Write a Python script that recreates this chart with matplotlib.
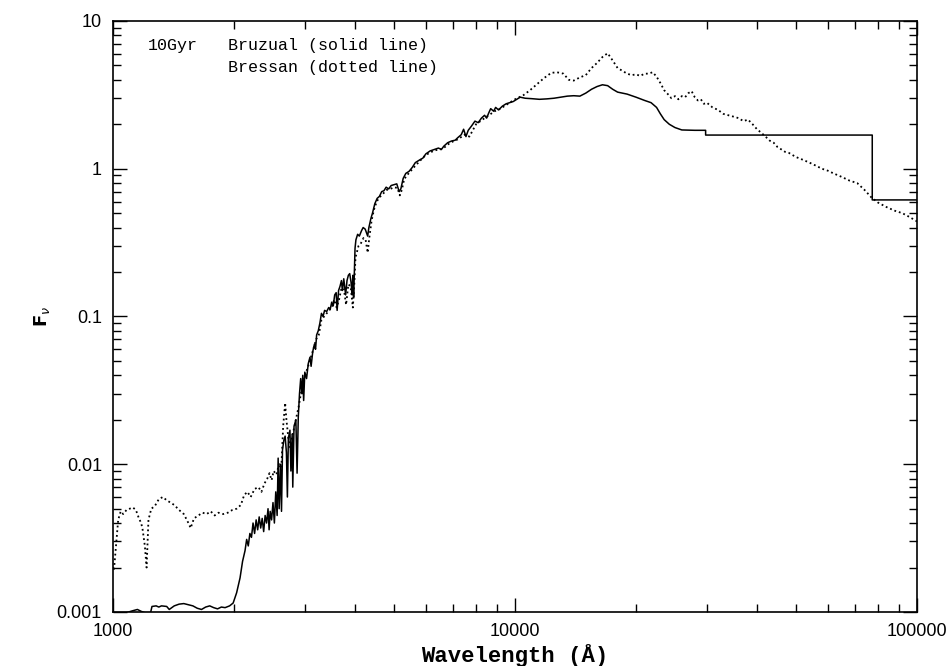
import numpy as np
import matplotlib
matplotlib.use('Agg')
import matplotlib.pyplot as plt

# Bruzual 10 Gyr SED (solid line)
wave_bru = [1000, 1080, 1120, 1150, 1175, 1200, 1240, 1250, 1280, 1300, 1320, 1360, 1380, 1420,
            1460, 1500, 1540, 1580, 1620, 1660, 1700, 1740, 1780, 1820, 1860, 1900, 1950, 1990,
            2030, 2070, 2100, 2130, 2150, 2170, 2190, 2210, 2230, 2250, 2270, 2290, 2310, 2330,
            2350, 2370, 2390, 2410, 2430, 2445, 2460, 2480, 2500, 2520, 2540, 2560, 2575, 2590,
            2610, 2625, 2640, 2660, 2680, 2700, 2715, 2730, 2755, 2770, 2790, 2800, 2820, 2850,
            2870, 2890, 2910, 2930, 2950, 2965, 2980, 3000, 3030, 3060, 3090, 3110, 3140, 3170,
            3190, 3210, 3240, 3270, 3300, 3330, 3360, 3400, 3440, 3470, 3500, 3530, 3560, 3590,
            3610, 3640, 3670, 3700, 3720, 3750, 3790, 3820, 3850, 3880, 3910, 3933, 3950, 3968,
            3985, 4000, 4020, 4060, 4100, 4150, 4190, 4240, 4270, 4300, 4330, 4380, 4420, 4480,
            4540, 4600, 4660, 4720, 4780, 4850, 4920, 5000, 5080, 5150, 5200, 5270, 5350, 5450,
            5550, 5650, 5800, 5900, 6000, 6150, 6300, 6450, 6560, 6650, 6800, 6950, 7100, 7200,
            7350, 7450, 7550, 7650, 7800, 7950, 8100, 8250, 8400, 8500, 8600, 8700, 8850, 8950,
            9100, 9300, 9500, 9700, 9900, 10100, 10300, 10600, 11000, 11500, 12000, 12500, 13000,
            13500, 14000, 14500, 15000, 15500, 16000, 16500, 17000, 17500, 18000, 19000, 20000,
            21000, 21800, 22500, 23000, 23500, 24200, 25000, 26000, 28000, 29800, 29800, 77400,
            77400, 100000]
flux_bru = [0.00099, 0.00099, 0.00102, 0.00104, 0.00101, 0.00099, 0.00099, 0.00109, 0.00110,
            0.00108, 0.00110, 0.00109, 0.00104, 0.00110, 0.00113, 0.00114, 0.00112, 0.00110,
            0.00106, 0.00104, 0.00108, 0.00110, 0.00107, 0.00105, 0.00108, 0.00107, 0.00110,
            0.00115, 0.00135, 0.0017, 0.0022, 0.0026, 0.0031, 0.0028, 0.0034, 0.0032, 0.0040,
            0.0034, 0.0042, 0.0036, 0.0044, 0.0037, 0.0043, 0.0035, 0.0045, 0.0040, 0.0050,
            0.0036, 0.0048, 0.0042, 0.0055, 0.0040, 0.0065, 0.0045, 0.0110, 0.0050, 0.0100,
            0.0048, 0.0125, 0.0145, 0.0155, 0.0120, 0.0060, 0.0150, 0.0170, 0.0090, 0.0160,
            0.0070, 0.0180, 0.0200, 0.0087, 0.0210, 0.0300, 0.0380, 0.0300, 0.0400, 0.0270,
            0.0420, 0.0380, 0.0480, 0.0530, 0.0460, 0.0580, 0.0650, 0.0600, 0.0750, 0.0800,
            0.0900, 0.1050, 0.1000, 0.1100, 0.1080, 0.1150, 0.1120, 0.1250, 0.1180, 0.1400,
            0.1450, 0.1100, 0.1500, 0.1600, 0.1750, 0.1500, 0.1800, 0.1400, 0.1750, 0.1900,
            0.1950, 0.1700, 0.1400, 0.1900, 0.1350, 0.2000, 0.2900, 0.3300, 0.3600, 0.3500,
            0.3800, 0.4000, 0.3900, 0.3700, 0.3500, 0.4000, 0.4600, 0.5000, 0.5800, 0.6300,
            0.6500, 0.7000, 0.7100, 0.7500, 0.7300, 0.7700, 0.7800, 0.7900, 0.7000, 0.7300,
            0.8600, 0.9300, 0.9600, 1.02, 1.10, 1.15, 1.18, 1.26, 1.32, 1.35, 1.38, 1.35, 1.42,
            1.50, 1.54, 1.56, 1.62, 1.70, 1.85, 1.65, 1.82, 1.95, 2.10, 2.05, 2.20, 2.30, 2.20,
            2.38, 2.55, 2.45, 2.60, 2.50, 2.65, 2.75, 2.80, 2.85, 2.95, 3.05, 3.00, 2.98, 2.95,
            2.97, 3.00, 3.05, 3.10, 3.12, 3.10, 3.25, 3.45, 3.60, 3.70, 3.65, 3.45, 3.30, 3.20,
            3.05, 2.90, 2.80, 2.60, 2.35, 2.15, 2.00, 1.90, 1.83, 1.82, 1.82, 1.69, 1.69, 0.615,
            0.615]

# Bressan 10 Gyr SED (dotted line)
wave_bre = [1000, 1005, 1015, 1030, 1045, 1060, 1080, 1100, 1120, 1140, 1160, 1175, 1185, 1200,
            1212, 1225, 1245, 1270, 1300, 1330, 1360, 1390, 1420, 1460, 1500, 1540, 1560, 1590,
            1630, 1670, 1710, 1750, 1790, 1830, 1880, 1930, 1980, 2030, 2080, 2120, 2160, 2200,
            2250, 2300, 2340, 2380, 2420, 2450, 2480, 2510, 2550, 2590, 2620, 2650, 2680, 2700,
            2730, 2760, 2800, 2850, 2900, 2950, 3000, 3050, 3100, 3150, 3200, 3250, 3300, 3350,
            3400, 3450, 3500, 3550, 3600, 3650, 3700, 3750, 3800, 3850, 3900, 3950, 3985, 4010,
            4040, 4080, 4130, 4200, 4250, 4300, 4340, 4400, 4460, 4530, 4600, 4700, 4800, 4900,
            5000, 5100, 5170, 5230, 5300, 5400, 5600, 5800, 6000, 6300, 6600, 6900, 7200, 7500,
            7700, 8000, 8300, 8600, 8900, 9200, 9500, 9800, 10000, 10500, 10900, 11300, 11800,
            12300, 12700, 13200, 13600, 14000, 14500, 15000, 15500, 16000, 16500, 17000, 17500,
            18000, 18500, 19000, 19500, 20000, 20500, 21000, 21500, 22000, 22500, 23000, 23500,
            24000, 24500, 25000, 25500, 26000, 26500, 27000, 27500, 28000, 28500, 29000, 29500,
            30000, 31000, 32000, 33000, 34000, 35000, 36000, 37000, 38000, 39000, 40000, 41000,
            42000, 43000, 44000, 45000, 46000, 47000, 48000, 50000, 52000, 54000, 56000, 58000,
            60000, 62000, 65000, 68000, 71000, 74000, 77000, 80000, 84000, 88000, 92000, 96000,
            100000]
flux_bre = [0.0020, 0.0019, 0.0026, 0.0042, 0.0048, 0.0046, 0.0049, 0.0050, 0.0051, 0.0049,
            0.0043, 0.0040, 0.0036, 0.0028, 0.0020, 0.0042, 0.0050, 0.0052, 0.0058, 0.0060,
            0.0057, 0.0055, 0.0053, 0.0049, 0.0046, 0.0040, 0.0037, 0.0043, 0.0045, 0.0047,
            0.0046, 0.0048, 0.0045, 0.0047, 0.0046, 0.0047, 0.0049, 0.0050, 0.0053, 0.0062,
            0.0065, 0.0060, 0.0068, 0.0070, 0.0065, 0.0074, 0.0080, 0.0087, 0.0078, 0.0090,
            0.0085, 0.0102, 0.0090, 0.0180, 0.0260, 0.0200, 0.0150, 0.0130, 0.0160, 0.0200,
            0.0250, 0.0330, 0.0400, 0.0450, 0.0520, 0.0600, 0.0700, 0.0750, 0.0950, 0.1000,
            0.1050, 0.1100, 0.1150, 0.1300, 0.1150, 0.1300, 0.1550, 0.1550, 0.1200, 0.1650,
            0.1600, 0.1150, 0.1700, 0.2500, 0.2700, 0.3000, 0.3100, 0.3400, 0.3300, 0.2700,
            0.3400, 0.4500, 0.5300, 0.6000, 0.6400, 0.6800, 0.7200, 0.7300, 0.7500, 0.7400,
            0.6600, 0.7200, 0.8500, 0.9100, 1.02, 1.13, 1.24, 1.33, 1.36, 1.50, 1.58, 1.70,
            1.65, 2.00, 2.15, 2.30, 2.45, 2.55, 2.70, 2.85, 2.95, 3.15, 3.40, 3.70, 4.10, 4.45,
            4.50, 4.40, 4.00, 3.95, 4.15, 4.30, 4.80, 5.20, 5.70, 6.05, 5.40, 4.80, 4.60, 4.40,
            4.30, 4.35, 4.25, 4.40, 4.40, 4.50, 4.20, 3.80, 3.40, 3.20, 3.00, 3.10, 2.95, 3.10,
            3.05, 3.25, 3.35, 3.05, 2.90, 2.95, 2.75, 2.80, 2.60, 2.50, 2.35, 2.30, 2.25, 2.20,
            2.10, 2.15, 2.00, 1.85, 1.75, 1.65, 1.55, 1.50, 1.40, 1.35, 1.30, 1.28, 1.20, 1.15,
            1.10, 1.05, 1.00, 0.97, 0.93, 0.88, 0.83, 0.80, 0.72, 0.64, 0.59, 0.55, 0.52, 0.50,
            0.47, 0.44]

fig = plt.figure(figsize=(9.53, 6.66), dpi=100)
ax = fig.add_axes([0.1186, 0.0811, 0.8436, 0.8874])

ax.plot(wave_bru, flux_bru, color='black', lw=1.1)
ax.plot(wave_bre, flux_bre, color='black', lw=1.3, linestyle=(0, (1, 1.6)))

ax.set_xscale('log')
ax.set_yscale('log')
ax.set_xlim(1000, 100000)
ax.set_ylim(0.001, 10)

ax.tick_params(which='both', direction='in', top=True, right=True, width=1.0)
ax.tick_params(which='major', length=10, labelsize=13, pad=8)
ax.tick_params(which='minor', length=6)
for s in ax.spines.values():
    s.set_linewidth(1.2)

ax.set_xticks([1000, 10000, 100000])
ax.set_xticklabels(['1000', '10000', '100000'], family='Liberation Sans')
ax.set_yticks([0.001, 0.01, 0.1, 1, 10])
ax.set_yticklabels(['0.001', '0.01', '0.1', '1', '10'], family='Liberation Sans')

ax.set_xlabel('Wavelength (Å)', family='Liberation Mono', fontweight='bold', fontsize=16, labelpad=3)
ax.set_ylabel(r'F$_\nu$', fontweight='bold', fontsize=13, labelpad=3)

ax.text(0.0435, 0.959, '10Gyr', transform=ax.transAxes, family='Liberation Mono',
        fontsize=12, va='center', ha='left')
ax.text(0.143, 0.959, 'Bruzual (solid line)', transform=ax.transAxes, family='Liberation Mono',
        fontsize=12, va='center', ha='left')
ax.text(0.143, 0.922, 'Bressan (dotted line)', transform=ax.transAxes, family='Liberation Mono',
        fontsize=12, va='center', ha='left')

plt.savefig('out.png', dpi=100)
